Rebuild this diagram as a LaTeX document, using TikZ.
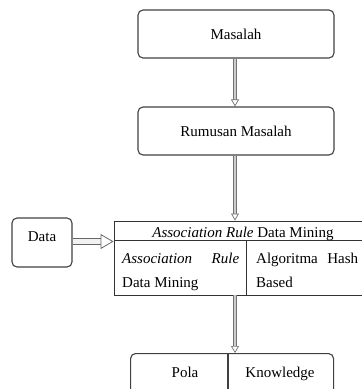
\documentclass[tikz,border=0pt]{standalone}
\usepackage{fontspec}
\setmainfont{Liberation Serif}
\usetikzlibrary{arrows.meta}
\begin{document}
\begin{tikzpicture}[x=1pt,y=-1pt,
  every node/.style={font=\fontsize{15}{18}\selectfont},
  rbox/.style={draw=black!75, line width=1.1pt, rounded corners=5pt, inner sep=0pt},
  cell/.style={draw=black!80, line width=0.9pt, inner sep=0pt},
  txt/.style={inner sep=0pt},
  varrow/.style={draw=black!55, line width=0.7pt, double=black!20, double distance=2.4pt,
    -{Triangle[open, length=7pt, width=8pt, line width=0.7pt]}},
  harrow/.style={draw=black!60, line width=0.8pt, double=black!5, double distance=4.8pt,
    -{Triangle[open, length=13pt, width=15pt, line width=0.8pt]}}
]
\useasboundingbox (0,0) rectangle (362,389);
% boxes
\node[rbox, minimum width=196pt, minimum height=48pt] (masalah) at (236,34) {Masalah};
\node[rbox, minimum width=196pt, minimum height=48pt] (rumusan) at (236,131) {Rumusan Masalah};
\node[rbox, minimum width=60pt, minimum height=49pt] (data) at (42,242.5) {};
\node[txt, anchor=base] (datatxt) at (42,241) {Data};
% table
\node[cell, minimum width=258pt, minimum height=19pt] (head) at (243,230.5) {};
\node[cell, minimum width=132pt, minimum height=55pt] (cl) at (180,267.5) {};
\node[cell, minimum width=126pt, minimum height=55pt] (cr) at (309,267.5) {};
\node[txt, anchor=base] (headtxt) at (243,237) {\textit{Association Rule} Data Mining};
\node[txt, anchor=base west, text width=117pt] (cl1) at (122,263) {\textit{Association}\hfill\textit{Rule}};
\node[txt, anchor=base west] (cl2) at (122,287) {Data Mining};
\node[txt, anchor=base west, text width=102pt] (cr1) at (256,263) {Algoritma\hfill Hash};
\node[txt, anchor=base west] (cr2) at (256,287) {Based};
% bottom box
\node[rbox, minimum width=203pt, minimum height=60pt, anchor=north west] (bottom) at (130,353) {};
\coordinate (divtop) at (228,353);
\draw[draw=black!75, line width=1.1pt] (divtop) -- (228,395);
\node[txt, anchor=base] (pola) at (185,377) {Pola};
\node[txt, anchor=base] (knowledge) at (280,377) {Knowledge};
% arrows
\draw[varrow] (masalah.south -| 235,0) -- (rumusan.north -| 235,0);
\draw[varrow] (rumusan.south -| 235,0) -- (head.north -| 235,0);
\draw[varrow] (cl.south -| 235,0) -- (bottom.north -| 235,0);
\draw[harrow] (data.east |- 0,241.5) -- (head.west |- 0,241.5);
\end{tikzpicture}
\end{document}
